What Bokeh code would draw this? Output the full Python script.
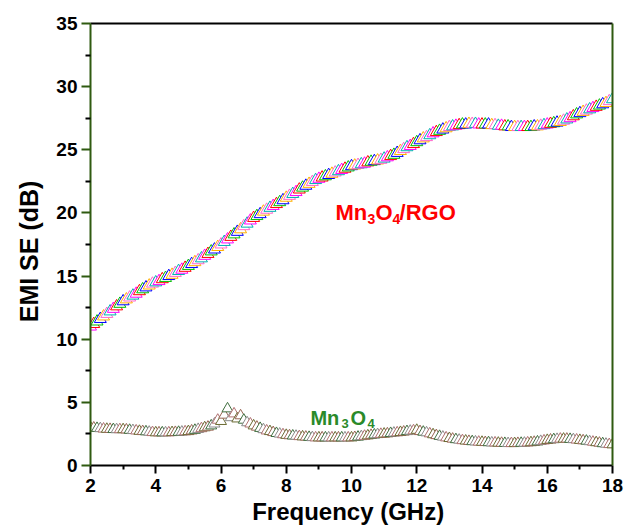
from bokeh.plotting import figure
from bokeh.models import LinearAxis, FixedTicker, Label, Range1d, ColumnDataSource
from bokeh.embed import file_html
from bokeh.resources import INLINE

# ---------------- data ----------------
freq = [round(2.0 + 0.1 * i, 1) for i in range(161)]

se_rgo = [
    11.0, 11.2, 11.4, 11.6, 11.8,
    12.0, 12.2, 12.4, 12.6, 12.8,
    13.0, 13.15, 13.3, 13.45, 13.6,
    13.8, 13.95, 14.1, 14.25, 14.4,
    14.5, 14.6, 14.75, 14.85, 15.0,
    15.1, 15.25, 15.4, 15.5, 15.65,
    15.8, 15.95, 16.1, 16.25, 16.4,
    16.6, 16.75, 16.95, 17.1, 17.3,
    17.5, 17.7, 17.9, 18.1, 18.3,
    18.5, 18.7, 18.95, 19.15, 19.4,
    19.6, 19.75, 19.9, 20.1, 20.25,
    20.4, 20.55, 20.7, 20.85, 21.0,
    21.2, 21.35, 21.5, 21.65, 21.85,
    22.0, 22.15, 22.3, 22.45, 22.6,
    22.7, 22.8, 22.9, 23.0, 23.1,
    23.2, 23.3, 23.4, 23.5, 23.6,
    23.7, 23.75, 23.8, 23.85, 23.9,
    24.0, 24.05, 24.1, 24.15, 24.2,
    24.3, 24.4, 24.5, 24.6, 24.75,
    24.9, 25.05, 25.2, 25.3, 25.45,
    25.6, 25.75, 25.9, 26.0, 26.15,
    26.3, 26.4, 26.5, 26.6, 26.7,
    26.8, 26.85, 26.9, 26.95, 27.0,
    27.0, 27.05, 27.05, 27.05, 27.0,
    27.0, 27.0, 27.0, 26.95, 26.95,
    26.9, 26.9, 26.85, 26.85, 26.8,
    26.8, 26.8, 26.8, 26.8, 26.8,
    26.8, 26.85, 26.85, 26.9, 26.95,
    27.0, 27.05, 27.1, 27.15, 27.2,
    27.3, 27.4, 27.5, 27.65, 27.8,
    27.9, 28.0, 28.1, 28.2, 28.3,
    28.4, 28.5, 28.6, 28.7, 28.85,
    29.0,
]

se_mn3o4 = [
    3.0, 2.98, 2.95, 2.93, 2.9,
    2.88, 2.87, 2.86, 2.85, 2.85,
    2.85, 2.83, 2.8, 2.78, 2.75,
    2.72, 2.7, 2.68, 2.65, 2.62,
    2.6, 2.6, 2.6, 2.6, 2.6,
    2.62, 2.63, 2.64, 2.66, 2.68,
    2.7, 2.75, 2.8, 2.87, 2.93,
    3.0, 3.05, 3.15, 3.3, 3.6,
    3.5, 4.0, 4.5, 3.8, 4.1,
    3.7, 3.95, 3.6, 3.4, 3.3,
    3.15, 3.05, 2.95, 2.85, 2.75,
    2.7, 2.62, 2.55, 2.5, 2.45,
    2.4, 2.37, 2.35, 2.33, 2.3,
    2.28, 2.26, 2.24, 2.22, 2.2,
    2.2, 2.2, 2.2, 2.2, 2.2,
    2.2, 2.2, 2.2, 2.2, 2.2,
    2.2, 2.23, 2.26, 2.3, 2.33,
    2.36, 2.4, 2.43, 2.46, 2.48,
    2.5, 2.52, 2.55, 2.58, 2.6,
    2.63, 2.66, 2.7, 2.73, 2.76,
    2.8, 2.7, 2.65, 2.6, 2.52,
    2.45, 2.38, 2.32, 2.26, 2.2,
    2.15, 2.1, 2.06, 2.02, 1.98,
    1.95, 1.92, 1.9, 1.88, 1.86,
    1.85, 1.83, 1.82, 1.8, 1.8,
    1.78, 1.77, 1.76, 1.75, 1.75,
    1.75, 1.76, 1.77, 1.78, 1.8,
    1.82, 1.85, 1.88, 1.92, 1.96,
    2.0, 2.03, 2.06, 2.08, 2.1,
    2.1, 2.1, 2.08, 2.06, 2.03,
    2.0, 1.97, 1.94, 1.9, 1.86,
    1.82, 1.78, 1.74, 1.7, 1.67,
    1.65,
]

x_ticks = [2, 4, 6, 8, 10, 12, 14, 16, 18]
x_minor = [3, 5, 7, 9, 11, 13, 15, 17]
y_ticks = [0, 5, 10, 15, 20, 25, 30, 35]
y_minor = [2.5, 7.5, 12.5, 17.5, 22.5, 27.5, 32.5]

# ---------------- styles ----------------
FONT = "Liberation Sans"
GREEN_AX = "#2f5a10"
rgo_palette = ["#ff00ff", "#ff0000", "#00c000", "#0000ff", "#ffb000", "#ff66cc", "#00b0b0"]
mn_palette = ["#6b6b33", "#996655", "#3f6f3f", "#8a8a8a", "#b07070"]

p = figure(width=624, height=527, output_backend="svg", toolbar_location=None,
           x_range=Range1d(2, 18), y_range=Range1d(0, 35),
           x_axis_location=None, y_axis_location=None)
p.min_border_left = 90
p.min_border_right = 12
p.min_border_top = 23
p.min_border_bottom = 62
p.outline_line_color = None
p.background_fill_color = "white"
p.border_fill_color = "white"
p.xgrid.visible = False
p.ygrid.visible = False

src_rgo = ColumnDataSource(dict(x=freq, y=se_rgo,
                                c=[rgo_palette[i % len(rgo_palette)] for i in range(len(freq))]))
src_mn = ColumnDataSource(dict(x=freq, y=se_mn3o4,
                               c=[mn_palette[i % len(mn_palette)] for i in range(len(freq))]))

p.scatter("x", "y", source=src_rgo, marker="triangle", size=12,
          fill_color="white", line_color="c", line_width=1)
p.scatter("x", "y", source=src_mn, marker="triangle", size=11,
          fill_color="white", line_color="c", line_width=1)

# bottom axis
xa = LinearAxis(ticker=FixedTicker(ticks=x_ticks, minor_ticks=x_minor),
                axis_label="Frequency  (GHz)")
xa.axis_line_color = "black"
xa.axis_line_width = 2
xa.major_tick_line_color = "black"
xa.major_tick_line_width = 2
xa.minor_tick_line_color = "black"
xa.minor_tick_line_width = 2
xa.major_tick_in = 0
xa.major_tick_out = 8
xa.minor_tick_in = 0
xa.minor_tick_out = 4
xa.major_label_text_font = FONT
xa.major_label_text_font_style = "bold"
xa.major_label_text_font_size = "19px"
xa.major_label_text_color = "black"
xa.major_label_standoff = 5
xa.axis_label_text_font = FONT
xa.axis_label_text_font_style = "bold"
xa.axis_label_text_font_size = "24px"
xa.axis_label_text_color = "black"
xa.axis_label_standoff = 3
p.add_layout(xa, "below")

# left axis
ya = LinearAxis(ticker=FixedTicker(ticks=y_ticks, minor_ticks=y_minor),
                axis_label="EMI  SE  (dB)")
ya.axis_line_color = GREEN_AX
ya.axis_line_width = 2
ya.major_tick_line_color = GREEN_AX
ya.major_tick_line_width = 2
ya.minor_tick_line_color = "black"
ya.minor_tick_line_width = 2
ya.major_tick_in = 0
ya.major_tick_out = 9
ya.minor_tick_in = 0
ya.minor_tick_out = 5
ya.major_label_text_font = FONT
ya.major_label_text_font_style = "bold"
ya.major_label_text_font_size = "19px"
ya.major_label_text_color = "black"
ya.major_label_standoff = 4
ya.axis_label_text_font = FONT
ya.axis_label_text_font_style = "bold"
ya.axis_label_text_font_size = "25px"
ya.axis_label_text_color = "black"
ya.axis_label_standoff = 10
p.add_layout(ya, "left")

# top and right frame lines
for loc, col in (("above", "black"), ("right", GREEN_AX)):
    ax = LinearAxis(ticker=FixedTicker(ticks=[], minor_ticks=[]))
    ax.axis_line_color = col
    ax.axis_line_width = 2
    ax.major_tick_out = 0
    ax.major_tick_in = 0
    ax.minor_tick_out = 0
    ax.minor_tick_in = 0
    ax.major_label_text_font_size = "0px"
    ax.major_label_standoff = 0
    p.add_layout(ax, loc)

# annotations: Mn3O4/RGO (red) and Mn3O4 (green)
def chem_label(x, y, color, size, sub_size, pieces):
    for text, dx, is_sub in pieces:
        p.add_layout(Label(x=x, y=y, x_offset=dx, y_offset=-6 if is_sub else 0,
                           text=text, text_font=FONT, text_font_style="bold",
                           text_font_size=f"{sub_size if is_sub else size}px",
                           text_color=color, text_baseline="alphabetic",
                           text_align="left"))

chem_label(9.51, 20.03, "#ff0000", 22, 14,
           [("Mn", 0, False), ("3", 32, True), ("O", 40, False),
            ("4", 57, True), ("/RGO", 64, False)])
chem_label(8.74, 3.80, "#2a8a2a", 20, 13,
           [("Mn", 0, False), ("3", 31, True), ("O", 40, False),
            ("4", 57, True)])

open("out.html", "w").write(file_html(p, INLINE))
